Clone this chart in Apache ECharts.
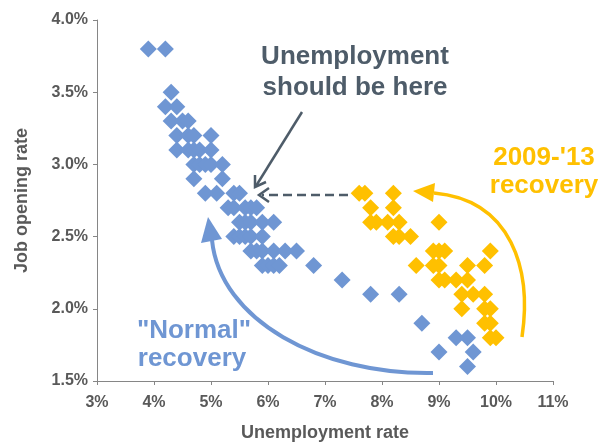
<!DOCTYPE html>
<html>
<head>
<meta charset="utf-8">
<script src="https://cdn.jsdelivr.net/npm/echarts@6/dist/echarts.min.js"></script>
<style>html,body{margin:0;padding:0;background:#fff;}#c{width:613px;height:443px;}</style>
</head>
<body>
<div id="c"></div>
<script>
// Unemployment rate (%) and job opening rate (%)
var normalUnemp = [3.9,4.2,4.3,4.2,4.4,4.3,4.5,4.6,4.4,4.6,4.7,5.0,4.4,4.6,4.7,4.8,5.0,4.7,4.8,4.9,5.0,5.2,4.7,5.2,4.9,5.1,5.4,5.5,5.3,5.4,5.6,5.7,5.8,5.5,5.6,5.7,5.9,6.1,5.4,5.5,5.6,5.7,5.9,5.7,5.8,5.9,6.1,6.3,6.5,5.9,6.0,6.1,6.2,6.8,7.3,7.8,8.3,8.7,9.3,9.5,9.0,9.6,9.5];
var normalJobs  = [3.8,3.8,3.5,3.4,3.4,3.3,3.3,3.3,3.2,3.2,3.2,3.2,3.1,3.1,3.1,3.1,3.1,3.0,3.0,3.0,3.0,3.0,2.9,2.9,2.8,2.8,2.8,2.8,2.7,2.7,2.7,2.7,2.7,2.6,2.6,2.6,2.6,2.6,2.5,2.5,2.5,2.5,2.5,2.4,2.4,2.4,2.4,2.4,2.4,2.3,2.3,2.3,2.3,2.3,2.2,2.1,2.1,1.9,1.8,1.8,1.7,1.7,1.6];
var recovUnemp = [7.6,7.7,8.2,7.8,8.2,7.8,7.9,8.1,8.3,9.0,8.2,8.3,8.5,8.9,9.0,9.1,9.9,8.6,8.9,9.0,9.5,9.8,9.0,9.1,9.3,9.5,9.4,9.6,9.8,9.4,9.8,9.9,9.8,9.9,9.9,10.0];
var recovJobs  = [2.8,2.8,2.8,2.7,2.7,2.6,2.6,2.6,2.6,2.6,2.5,2.5,2.5,2.4,2.4,2.4,2.4,2.3,2.3,2.3,2.3,2.3,2.2,2.2,2.2,2.2,2.1,2.1,2.1,2.0,2.0,2.0,1.9,1.9,1.8,1.8];
var xTicks = [3,4,5,6,7,8,9,10,11];
var yTicks = [1.5,2.0,2.5,3.0,3.5,4.0];

function zip(a,b){var r=[];for(var i=0;i<a.length;i++){r.push([a[i],b[i]]);}return r;}

var FONT = "'Liberation Sans', Arial, sans-serif";
var AXC = '#595959';
var BLUE = '#6f96d3';
var ORANGE = '#FFC000';
var SLATE = '#4e5c69';

var chart = echarts.init(document.getElementById('c'), null, {renderer:'canvas'});
chart.setOption({
  animation:false,
  backgroundColor:'#fff',
  grid:{left:97,right:60,top:20,bottom:62,containLabel:false,outerBoundsMode:'none'},
  xAxis:{
    type:'value', min:xTicks[0], max:xTicks[xTicks.length-1], interval:1,
    name:'Unemployment rate', nameLocation:'middle', nameGap:43,
    nameTextStyle:{color:AXC,fontFamily:FONT,fontWeight:'bold',fontSize:18},
    axisLine:{show:true,lineStyle:{color:'#868686',width:1}},
    axisTick:{show:true,inside:false,length:4,lineStyle:{color:'#868686'}},
    axisLabel:{margin:14,color:AXC,fontFamily:FONT,fontWeight:'bold',fontSize:16,formatter:function(v){return v+'%';}},
    splitLine:{show:false}
  },
  yAxis:{
    type:'value', min:yTicks[0], max:yTicks[yTicks.length-1], interval:0.5,
    name:'Job opening rate', nameLocation:'middle', nameGap:66, nameRotate:90,
    nameTextStyle:{color:AXC,fontFamily:FONT,fontWeight:'bold',fontSize:18},
    axisLine:{show:true,lineStyle:{color:'#868686',width:1}},
    axisTick:{show:true,inside:false,length:4,lineStyle:{color:'#868686'}},
    axisLabel:{margin:9,color:AXC,fontFamily:FONT,fontWeight:'bold',fontSize:16,formatter:function(v){return v.toFixed(1)+'%';}},
    splitLine:{show:false}
  },
  series:[
    {type:'scatter',name:'Normal',symbol:'diamond',symbolSize:17,data:zip(normalUnemp,normalJobs),itemStyle:{color:BLUE,opacity:1}},
    {type:'scatter',name:'2009-13',symbol:'diamond',symbolSize:17,data:zip(recovUnemp,recovJobs),itemStyle:{color:ORANGE,opacity:1}}
  ],
  graphic:[
    {type:'text',x:355,y:57,style:{text:'Unemployment',fill:SLATE,font:'bold 26px '+FONT,align:'center',verticalAlign:'middle'},z:10},
    {type:'text',x:355,y:88,style:{text:'should be here',fill:SLATE,font:'bold 26px '+FONT,align:'center',verticalAlign:'middle'},z:10},
    {type:'text',x:544,y:158,style:{text:"2009-'13",fill:ORANGE,font:'bold 26px '+FONT,align:'center',verticalAlign:'middle'},z:10},
    {type:'text',x:544,y:186,style:{text:'recovery',fill:ORANGE,font:'bold 26px '+FONT,align:'center',verticalAlign:'middle'},z:10},
    {type:'text',x:194,y:331,style:{text:'"Normal"',fill:BLUE,font:'bold 26px '+FONT,align:'center',verticalAlign:'middle'},z:10},
    {type:'text',x:192,y:359,style:{text:'recovery',fill:BLUE,font:'bold 26px '+FONT,align:'center',verticalAlign:'middle'},z:10},
    {type:'line',shape:{x1:302,y1:112,x2:256,y2:186},style:{stroke:SLATE,lineWidth:2.5},z:10},
    {type:'polyline',shape:{points:[[255,175],[255,187],[266,182]]},style:{stroke:SLATE,lineWidth:2.5,fill:null},z:10},
    {type:'line',shape:{x1:348,y1:195,x2:262,y2:195},style:{stroke:SLATE,lineWidth:2.5,lineDash:[9,5]},z:10},
    {type:'polyline',shape:{points:[[269,188],[259,195],[269,202]]},style:{stroke:SLATE,lineWidth:2.5,fill:null},z:10},
    {type:'bezierCurve',shape:{x1:522,y1:337,cpx1:532,cpy1:270,cpx2:512,cpy2:200,x2:434,y2:193},style:{stroke:ORANGE,lineWidth:3.5,fill:null},z:10},
    {type:'polygon',shape:{points:[[413,191],[435,183],[433,202]]},style:{fill:ORANGE},z:10},
    {type:'bezierCurve',shape:{x1:433,y1:373,cpx1:320,cpy1:375,cpx2:220,cpy2:320,x2:212,y2:240},style:{stroke:BLUE,lineWidth:4,fill:null},z:10},
    {type:'polygon',shape:{points:[[208,217],[222,239],[201,243]]},style:{fill:BLUE},z:10}
  ]
});
</script>
</body>
</html>
